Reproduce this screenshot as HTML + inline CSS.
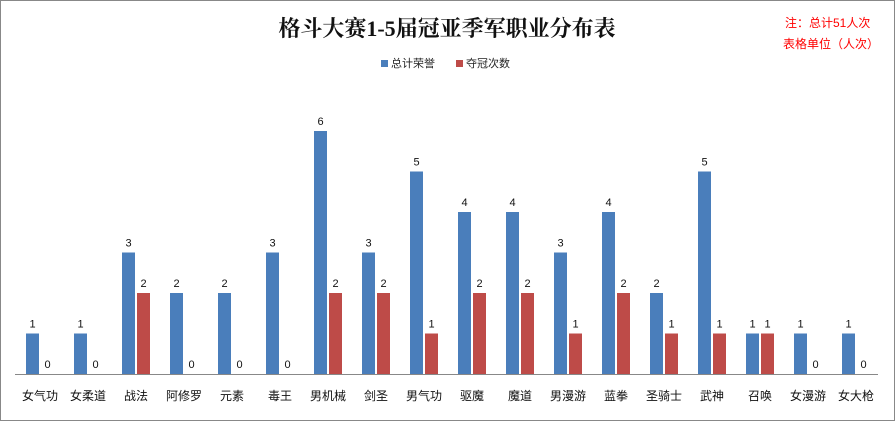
<!DOCTYPE html><html><head><meta charset="utf-8"><style>body{margin:0;background:#fff}svg{display:block}</style></head><body>
<svg width="895" height="421" xmlns="http://www.w3.org/2000/svg" font-family="Liberation Sans, Noto Sans CJK SC, sans-serif">
<rect x="0.5" y="0.5" width="894" height="420" fill="#fff" stroke="#888"/>
<text x="447" y="36" text-anchor="middle" font-size="22" font-weight="bold" font-family="Liberation Serif, Noto Serif CJK SC, serif" fill="#111">格斗大赛1-5届冠亚季军职业分布表</text>
<text x="785" y="27" font-size="12" fill="#f00">注：总计51人次</text>
<text x="783" y="48" font-size="12" fill="#f00">表格单位（人次）</text>
<rect x="381" y="60" width="7" height="7" fill="#4a7ebb"/><text x="391" y="67" font-size="11" fill="#222">总计荣誉</text>
<rect x="456" y="60" width="7" height="7" fill="#be4b48"/><text x="466" y="67" font-size="11" fill="#222">夺冠次数</text>
<line x1="15" y1="374.5" x2="878" y2="374.5" stroke="#888"/>
<g font-size="11" fill="#111" text-anchor="middle">
<g transform="translate(26)"><rect x="0" y="333.5" width="13" height="40.5" fill="#4a7ebb"/><text x="6.5" y="327.5">1</text><text x="21.5" y="368">0</text><text x="14" y="400" font-size="12">女气功</text></g>
<g transform="translate(74)"><rect x="0" y="333.5" width="13" height="40.5" fill="#4a7ebb"/><text x="6.5" y="327.5">1</text><text x="21.5" y="368">0</text><text x="14" y="400" font-size="12">女柔道</text></g>
<g transform="translate(122)"><rect x="0" y="252.5" width="13" height="121.5" fill="#4a7ebb"/><text x="6.5" y="246.5">3</text><rect x="15" y="293" width="13" height="81" fill="#be4b48"/><text x="21.5" y="287">2</text><text x="14" y="400" font-size="12">战法</text></g>
<g transform="translate(170)"><rect x="0" y="293" width="13" height="81" fill="#4a7ebb"/><text x="6.5" y="287">2</text><text x="21.5" y="368">0</text><text x="14" y="400" font-size="12">阿修罗</text></g>
<g transform="translate(218)"><rect x="0" y="293" width="13" height="81" fill="#4a7ebb"/><text x="6.5" y="287">2</text><text x="21.5" y="368">0</text><text x="14" y="400" font-size="12">元素</text></g>
<g transform="translate(266)"><rect x="0" y="252.5" width="13" height="121.5" fill="#4a7ebb"/><text x="6.5" y="246.5">3</text><text x="21.5" y="368">0</text><text x="14" y="400" font-size="12">毒王</text></g>
<g transform="translate(314)"><rect x="0" y="131" width="13" height="243" fill="#4a7ebb"/><text x="6.5" y="125">6</text><rect x="15" y="293" width="13" height="81" fill="#be4b48"/><text x="21.5" y="287">2</text><text x="14" y="400" font-size="12">男机械</text></g>
<g transform="translate(362)"><rect x="0" y="252.5" width="13" height="121.5" fill="#4a7ebb"/><text x="6.5" y="246.5">3</text><rect x="15" y="293" width="13" height="81" fill="#be4b48"/><text x="21.5" y="287">2</text><text x="14" y="400" font-size="12">剑圣</text></g>
<g transform="translate(410)"><rect x="0" y="171.5" width="13" height="202.5" fill="#4a7ebb"/><text x="6.5" y="165.5">5</text><rect x="15" y="333.5" width="13" height="40.5" fill="#be4b48"/><text x="21.5" y="327.5">1</text><text x="14" y="400" font-size="12">男气功</text></g>
<g transform="translate(458)"><rect x="0" y="212" width="13" height="162" fill="#4a7ebb"/><text x="6.5" y="206">4</text><rect x="15" y="293" width="13" height="81" fill="#be4b48"/><text x="21.5" y="287">2</text><text x="14" y="400" font-size="12">驱魔</text></g>
<g transform="translate(506)"><rect x="0" y="212" width="13" height="162" fill="#4a7ebb"/><text x="6.5" y="206">4</text><rect x="15" y="293" width="13" height="81" fill="#be4b48"/><text x="21.5" y="287">2</text><text x="14" y="400" font-size="12">魔道</text></g>
<g transform="translate(554)"><rect x="0" y="252.5" width="13" height="121.5" fill="#4a7ebb"/><text x="6.5" y="246.5">3</text><rect x="15" y="333.5" width="13" height="40.5" fill="#be4b48"/><text x="21.5" y="327.5">1</text><text x="14" y="400" font-size="12">男漫游</text></g>
<g transform="translate(602)"><rect x="0" y="212" width="13" height="162" fill="#4a7ebb"/><text x="6.5" y="206">4</text><rect x="15" y="293" width="13" height="81" fill="#be4b48"/><text x="21.5" y="287">2</text><text x="14" y="400" font-size="12">蓝拳</text></g>
<g transform="translate(650)"><rect x="0" y="293" width="13" height="81" fill="#4a7ebb"/><text x="6.5" y="287">2</text><rect x="15" y="333.5" width="13" height="40.5" fill="#be4b48"/><text x="21.5" y="327.5">1</text><text x="14" y="400" font-size="12">圣骑士</text></g>
<g transform="translate(698)"><rect x="0" y="171.5" width="13" height="202.5" fill="#4a7ebb"/><text x="6.5" y="165.5">5</text><rect x="15" y="333.5" width="13" height="40.5" fill="#be4b48"/><text x="21.5" y="327.5">1</text><text x="14" y="400" font-size="12">武神</text></g>
<g transform="translate(746)"><rect x="0" y="333.5" width="13" height="40.5" fill="#4a7ebb"/><text x="6.5" y="327.5">1</text><rect x="15" y="333.5" width="13" height="40.5" fill="#be4b48"/><text x="21.5" y="327.5">1</text><text x="14" y="400" font-size="12">召唤</text></g>
<g transform="translate(794)"><rect x="0" y="333.5" width="13" height="40.5" fill="#4a7ebb"/><text x="6.5" y="327.5">1</text><text x="21.5" y="368">0</text><text x="14" y="400" font-size="12">女漫游</text></g>
<g transform="translate(842)"><rect x="0" y="333.5" width="13" height="40.5" fill="#4a7ebb"/><text x="6.5" y="327.5">1</text><text x="21.5" y="368">0</text><text x="14" y="400" font-size="12">女大枪</text></g>
</g>
</svg></body></html>
